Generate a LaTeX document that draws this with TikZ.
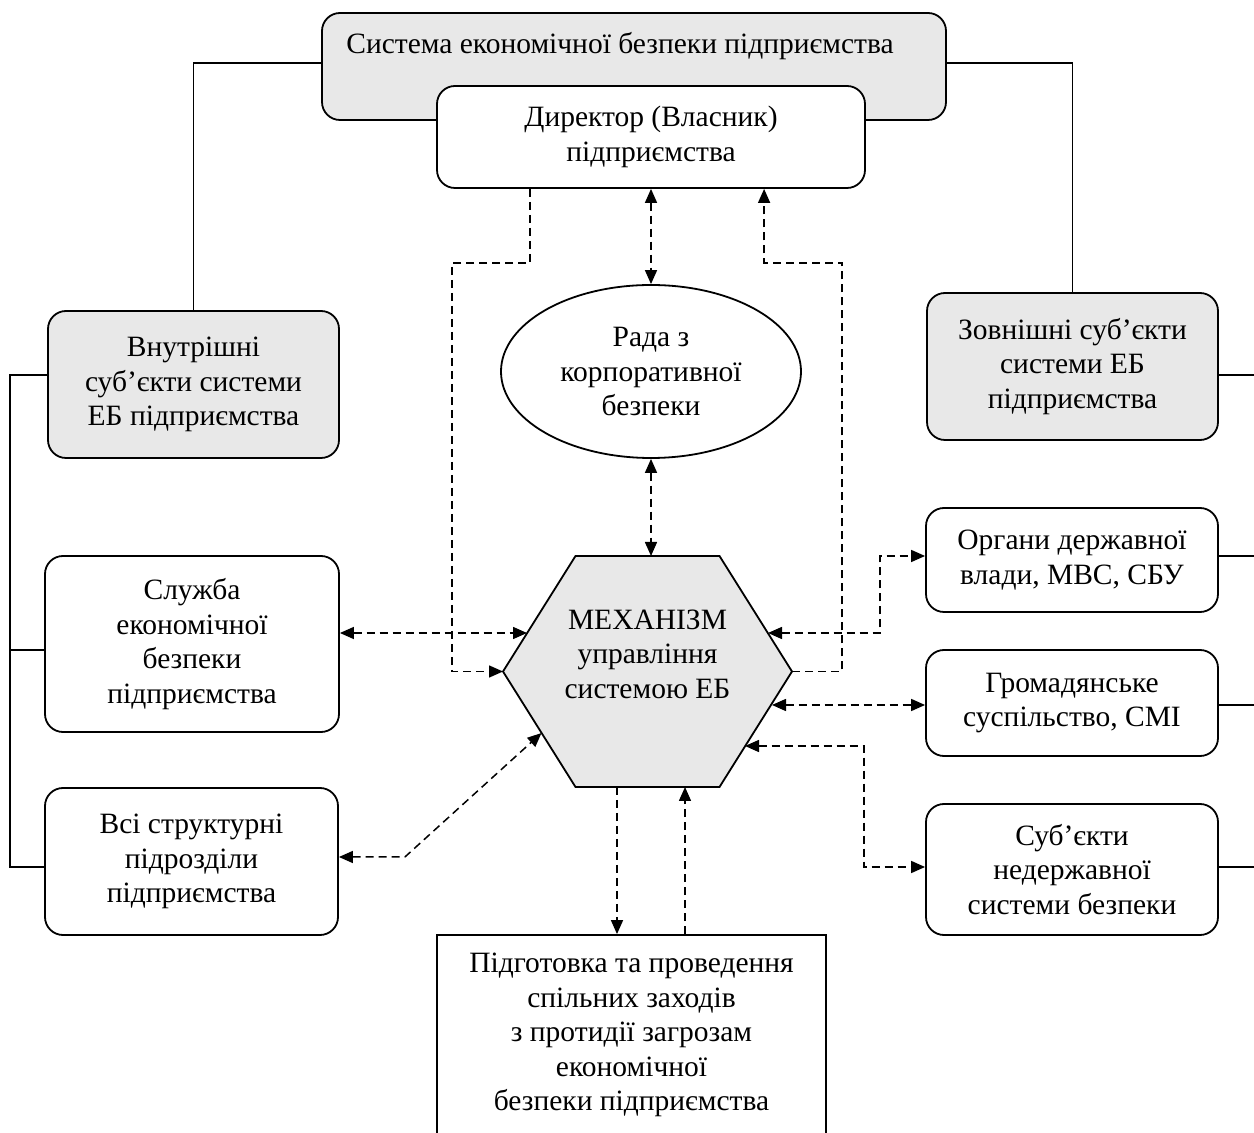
\documentclass[tikz,border=0pt]{standalone}
\usepackage{fontspec}
\setmainfont{Liberation Serif}
\usetikzlibrary{arrows.meta,shapes.geometric,calc}
\definecolor{boxgray}{RGB}{232,232,232}
\begin{document}
\begin{tikzpicture}[x=0.5pt,y=-0.5pt,
  font=\fontsize{14.75}{17.3}\selectfont,
  rbox/.style={draw, line width=0.9pt, rounded corners=9pt, align=center, inner sep=0pt},
  grbox/.style={rbox, fill=boxgray},
  solidln/.style={line width=0.75pt},
  dln/.style={line width=0.75pt, dash pattern=on 4pt off 2.5pt},
  twoway/.style={dln, {Triangle[length=7pt,width=6pt]}-{Triangle[length=7pt,width=6pt]}},
  oneway/.style={dln, -{Triangle[length=7pt,width=6pt]}},
]
\useasboundingbox (0,0) rectangle (1254,1133);

% top system box
\node[grbox, minimum width=312pt, minimum height=53.5pt] (sys) at (634,66.5) {};
\node (systxt) at (620,46) {Система економічної безпеки підприємства};

% side boxes
\node[grbox, minimum width=145.5pt, minimum height=73.5pt] (vn) at (193.5,384.5) {Внутрішні\\суб’єкти системи\\ЕБ підприємства};
\node[rbox, minimum width=147pt, minimum height=88pt] (sl) at (192,644) {Служба\\економічної\\безпеки\\підприємства};
\node[rbox, minimum width=146.5pt, minimum height=73.5pt] (vsi) at (191.5,861.5) {Всі структурні\\підрозділи\\підприємства};

\node[grbox, minimum width=145.5pt, minimum height=73.5pt] (zv) at (1072.5,366.5) {Зовнішні суб’єкти\\системи ЕБ\\підприємства};
\node[rbox, minimum width=146pt, minimum height=52pt] (org) at (1072,560) {Органи державної\\влади, МВС, СБУ};
\node[rbox, minimum width=146pt, minimum height=53pt] (gr) at (1072,703) {Громадянське\\суспільство, СМІ};
\node[rbox, minimum width=146pt, minimum height=65.5pt] (sub) at (1072,869.5) {Суб’єкти\\недержавної\\системи безпеки};

% solid structure lines
\coordinate (lb) at (10,0);
\coordinate (rb) at (1256,0);
\draw[solidln] ([yshift=1.75pt]sys.west) -| (vn.north);
\draw[solidln] ([yshift=1.75pt]sys.east) -| (zv.north);
\draw[solidln] ([yshift=4.75pt]vn.west) -- ([yshift=4.75pt]vn.west -| lb) |- ([yshift=-2.75pt]vsi.west);
\draw[solidln] ([yshift=-3pt]sl.west) -- ([yshift=-3pt]sl.west -| lb);
\draw[solidln] ([yshift=-4.25pt]zv.east) -- ([yshift=-4.25pt]zv.east -| rb);
\draw[solidln] ([yshift=2pt]org.east) -- ([yshift=2pt]org.east -| rb);
\draw[solidln] ([yshift=-1pt]gr.east) -- ([yshift=-1pt]gr.east -| rb);
\draw[solidln] ([yshift=1.25pt]sub.east) -- ([yshift=1.25pt]sub.east -| rb);

% director box
\node[rbox, fill=white, minimum width=214pt, minimum height=51pt] (dir) at (651,137) {Директор (Власник)\\підприємства};

% council ellipse
\node[ellipse, draw, line width=0.9pt, minimum width=150pt, minimum height=86.5pt, align=center, inner sep=0pt] (rada) at (651,371.5) {Рада з\\корпоративної\\безпеки};

% hexagon
\coordinate (hL) at (503,671.5);
\coordinate (hTL) at (575.5,556);
\coordinate (hTR) at (719.5,556);
\coordinate (hR) at (792,671.5);
\coordinate (hBR) at (719.5,787);
\coordinate (hBL) at (575.5,787);
\draw[line width=0.9pt, fill=boxgray] (hL) -- (hTL) -- (hTR) -- (hR) -- (hBR) -- (hBL) -- cycle;
\node[align=center] (hex) at (647.5,654) {МЕХАНІЗМ\\управління\\системою ЕБ};

\coordinate (hT) at (651,556);
\coordinate (hSl) at (527,633);
\coordinate (hVsi) at (541.5,733);
\coordinate (hOrg) at (768,633);
\coordinate (hGr) at (772,705);
\coordinate (hSub) at (745,746);
\coordinate (hB1) at (617,787);
\coordinate (hB2) at (685,787);

% bottom box
\node[draw, line width=0.9pt, minimum width=194.5pt, minimum height=100pt, align=center, inner sep=0pt] (bot) at (631.5,1035) {Підготовка та проведення\\спільних заходів\\з протидії загрозам\\економічної\\безпеки підприємства};

% dashed connectors
\draw[oneway] ([xshift=47pt]dir.south west) |- (452,263) |- (hL);
\draw[oneway] (hR) -| (842,263) -| ([xshift=164pt]dir.south west);
\draw[twoway] (dir.south) -- (rada.north);
\draw[twoway] (rada.south) -- (hT);

\draw[twoway] (sl.east |- hSl) -- (hSl);
\draw[twoway] ([yshift=2.25pt]vsi.east) -- ++(33pt,0) -- (hVsi);

\draw[twoway] (hOrg) -| ([xshift=-22.5pt,yshift=2pt]org.west) -- ([yshift=2pt]org.west);
\draw[twoway] (hGr) -- (hGr -| gr.west);
\draw[twoway] (hSub) -| ([xshift=-30.5pt,yshift=1.25pt]sub.west) -- ([yshift=1.25pt]sub.west);

\draw[oneway] (hB1) -- (hB1 |- bot.north);
\draw[oneway] (bot.north -| hB2) -- (hB2);
\end{tikzpicture}
\end{document}
